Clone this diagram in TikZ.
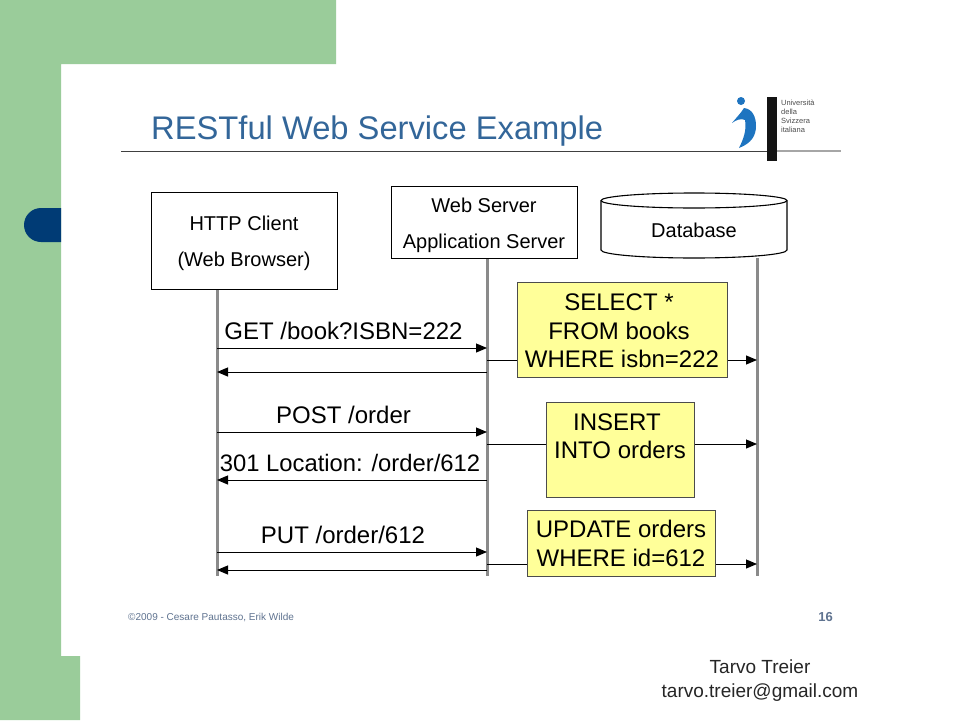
\documentclass[tikz,border=0pt]{standalone}
\usepackage{fontspec}
\setmainfont{Liberation Sans}
\usetikzlibrary{arrows.meta}
\definecolor{pagegreen}{HTML}{9ACC9A}
\definecolor{pillblue}{HTML}{003B75}
\definecolor{titleblue}{HTML}{336699}
\definecolor{notey}{HTML}{FFFF99}
\definecolor{footgrey}{HTML}{5F7390}
\definecolor{logoblue}{HTML}{1E74C0}
\definecolor{lifegrey}{HTML}{8A8A8A}
\tikzset{
  actorbox/.style={draw=black,line width=1.1pt,fill=white,align=center,inner sep=0pt},
  lifeline/.style={color=lifegrey,line width=3pt},
  msg/.style={draw=black,line width=1pt,-{Triangle[length=11pt,width=9pt]}},
  notebox/.style={draw=black!70,line width=1pt,fill=notey,inner sep=0pt},
  lbl/.style={font=\fontsize{24}{28}\selectfont,anchor=base,inner sep=0pt},
  boxtext/.style={font=\fontsize{20}{24}\selectfont,anchor=base,inner sep=0pt},
}
\begin{document}
\begin{tikzpicture}[x=1pt,y=-1pt]
\useasboundingbox (0,0) rectangle (960,720);
\fill[white] (0,0) rectangle (960,720);
% page background
\fill[pagegreen] (0,0) -- (336,0) -- (336,64) -- (61,64) -- (61,656) -- (80,656) -- (80,720) -- (0,720) -- cycle;
\fill[pillblue] (61,208) -- (41,208) .. controls (31.6,208) and (24,215.6) .. (24,225) .. controls (24,234.4) and (31.6,242) .. (41,242) -- (61,242) -- cycle;
% title
\node[anchor=base west,inner sep=0pt,text=titleblue,font=\fontsize{32.7}{39}\selectfont] (title) at (151,139) {RESTful Web Service Example};
\coordinate (ruleA) at (121,151);
\coordinate (ruleB) at (767,151);
\coordinate (ruleC) at (841,151);
\draw[black!75,line width=1pt] (ruleA) -- (ruleB);
\draw[black!35,line width=1.3pt] (ruleB) -- (ruleC);
% logo
\fill[black!92] (767,97) rectangle (777,161);
\fill[logoblue] (741,101) circle[radius=4];
\fill[logoblue] (744,108) .. controls (752,109) and (756,116) .. (756,126)
  .. controls (756,135) and (752,143) .. (739,148)
  .. controls (743,140) and (747,130) .. (745,120)
  .. controls (741,118) and (736,120) .. (732,123)
  .. controls (736,118) and (741,113) .. (744,108) -- cycle;
\node[anchor=north west,align=left,inner sep=0pt,text=black!70,font=\fontsize{7.5}{9}\selectfont] (uni) at (781,100) {Università\\della\\Svizzera\\italiana};
% lifeline ends
\coordinate (clientEnd) at (217,576);
\coordinate (serverEnd) at (487,576);
\coordinate (dbTop) at (757,258);
\coordinate (dbEnd) at (757,576);
% actors
\node[actorbox,minimum width=186pt,minimum height=97pt,anchor=north west] (client) at (151,192) {};
\node[actorbox,minimum width=186pt,minimum height=72pt,anchor=north west] (server) at (391,186) {};
\draw[black,line width=1.1pt,fill=white] (601,200.5)
  .. controls (601,196.4) and (642.6,193) .. (694,193)
  .. controls (745.4,193) and (787,196.4) .. (787,200.5)
  -- (787,250)
  .. controls (787,254.5) and (745.4,258) .. (694,258)
  .. controls (642.6,258) and (601,254.5) .. (601,250) -- cycle;
\draw[black,line width=1.1pt] (601,200.5)
  .. controls (601,204.6) and (642.6,208) .. (694,208)
  .. controls (745.4,208) and (787,204.6) .. (787,200.5);
\node[boxtext] (c1) at (244,230) {HTTP Client};
\node[boxtext] (c2) at (244,266) {(Web Browser)};
\node[boxtext] (s1) at (484,212) {Web Server};
\node[boxtext] (s2) at (484,248) {Application Server};
\node[boxtext] (d1) at (694,237) {Database};
\draw[lifeline] (client.south -| clientEnd) -- (clientEnd);
\draw[lifeline] (server.south -| serverEnd) -- (serverEnd);
\draw[lifeline] (dbTop) -- (dbEnd);
% client/server messages
\foreach \n/\y in {a/348,b/372,c/432,d/480,e/552,f/570}{
  \coordinate (cl\n) at (217,\y);
  \coordinate (sv\n) at (487,\y);
}
\draw[msg] (cla) -- (sva);
\draw[msg] (svb) -- (clb);
\draw[msg] (clc) -- (svc);
\draw[msg] (svd) -- (cld);
\draw[msg] (cle) -- (sve);
\draw[msg] (svf) -- (clf);
% server/database messages
\foreach \n/\y in {g/360,h/444,i/564}{
  \coordinate (sv\n) at (487,\y);
  \coordinate (db\n) at (757,\y);
}
\draw[msg] (svg) -- (dbg);
\draw[msg] (svh) -- (dbh);
\draw[msg] (svi) -- (dbi);
% notes
\node[notebox,minimum width=210pt,minimum height=95pt] (sel) at (622,329.5) {};
\node[notebox,minimum width=148pt,minimum height=95pt] (ins) at (620,449.5) {};
\node[notebox,minimum width=188pt,minimum height=66pt] (upd) at (621,543) {};
\node[lbl] (n1) at (619,310) {SELECT *};
\node[lbl] (n2) at (619,339) {FROM books};
\node[lbl] (n3) at (622,367) {WHERE isbn=222};
\node[lbl] (n4) at (617,430) {INSERT};
\node[lbl] (n5) at (620,458) {INTO orders};
\node[lbl] (n6) at (621,537) {UPDATE orders};
\node[lbl] (n7) at (621,566) {WHERE id=612};
% labels
\node[lbl] (l1) at (343.5,339) {GET /book?ISBN=222};
\node[lbl] (l2) at (343.5,423) {POST /order};
\node[lbl,font=\fontsize{23.8}{28}\selectfont] (l3) at (350,471) {301 Location: /order/612};
\node[lbl] (l4) at (343,543) {PUT /order/612};
% footer
\node[anchor=base west,inner sep=0pt,text=footgrey,font=\fontsize{10}{12}\selectfont] (foot) at (128,620) {©2009 - Cesare Pautasso, Erik Wilde};
\node[anchor=base east,inner sep=0pt,text=footgrey,font=\bfseries\fontsize{13}{15}\selectfont] (pg) at (833,621) {16};
\node[anchor=base,inner sep=0pt,text=black!85,font=\fontsize{19}{22}\selectfont] (tt) at (760,673) {Tarvo Treier};
\node[anchor=base,inner sep=0pt,text=black!85,font=\fontsize{19}{22}\selectfont] (te) at (760,697) {tarvo.treier@gmail.com};
\end{tikzpicture}
\end{document}
